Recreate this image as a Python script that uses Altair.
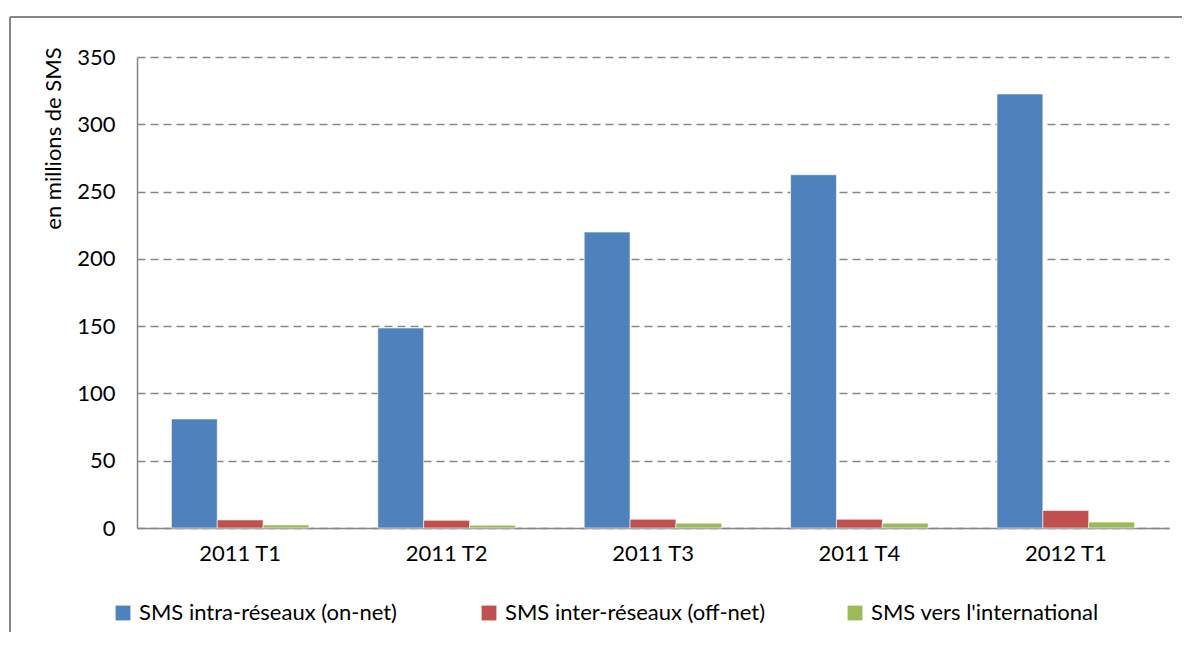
import altair as alt
import pandas as pd

categories = ["2011 T1", "2011 T2", "2011 T3", "2011 T4", "2012 T1"]
series_names = ["SMS intra-réseaux (on-net)", "SMS inter-réseaux (off-net)", "SMS vers l'international"]
on_net = [81.0, 148.6, 219.9, 262.5, 322.5]
off_net = [6.0, 5.7, 6.5, 6.5, 13.0]
international = [2.3, 2.1, 3.6, 3.6, 4.4]
colors = ["#4F81BD", "#C0504D", "#9BBB59"]
y_ticks = [0, 50, 100, 150, 200, 250, 300, 350]

rows = []
for values, name in zip([on_net, off_net, international], series_names):
    for cat, v in zip(categories, values):
        rows.append({"Trimestre": cat, "Série": name, "Valeur": v})
df = pd.DataFrame(rows)

FONT = "Lato"
W, H = 1032, 471

bars = alt.Chart(df).mark_bar(stroke="white", strokeWidth=0.6).encode(
    x=alt.X("Trimestre:N", sort=categories,
            scale=alt.Scale(paddingInner=1/3, paddingOuter=1/6),
            axis=alt.Axis(title=None, labelAngle=0, ticks=False, grid=False,
                          domainColor="#868686", domainWidth=1.5,
                          labelFont=FONT, labelFontSize=22, labelColor="#000000",
                          labelPadding=15)),
    xOffset=alt.XOffset("Série:N", sort=series_names, scale=alt.Scale(paddingInner=0, paddingOuter=0)),
    y=alt.Y("Valeur:Q", scale=alt.Scale(domain=[0, 350], nice=False),
            axis=alt.Axis(title="en millions de SMS", values=y_ticks, ticks=False,
                          grid=True, gridColor="#868686", gridDash=[8, 5], gridWidth=1.3,
                          domainColor="#868686", domainWidth=1.5,
                          labelFont=FONT, labelFontSize=22, labelColor="#000000",
                          labelPadding=22,
                          titleFont=FONT, titleFontSize=22, titleFontWeight="normal",
                          titleColor="#000000", titleAngle=-90,
                          titleX=-84, titleY=81, titleAlign="center",
                          titleBaseline="middle")),
    color=alt.Color("Série:N", sort=series_names,
                    scale=alt.Scale(domain=series_names, range=colors),
                    legend=alt.Legend(title=None, orient="none", legendX=-25, legendY=545,
                                      direction="horizontal", columns=3, gridAlign="all",
                                      columnPadding=78, symbolType="square", symbolSize=220,
                                      symbolStrokeWidth=0, labelFont=FONT, labelFontSize=22,
                                      labelColor="#000000", labelLimit=400, labelOffset=5)),
)

frame_top = alt.Chart(df).mark_rule(color="#868686", strokeWidth=1.5).encode(
    x=alt.value(-127), x2=alt.value(1060), y=alt.value(-40))
frame_left = alt.Chart(df).mark_rule(color="#868686", strokeWidth=1.5).encode(
    x=alt.value(-127), y=alt.value(-40), y2=alt.value(600))

chart = alt.layer(frame_top, frame_left, bars).properties(
    width=W, height=H,
    autosize=alt.AutoSizeParams(type="none"),
    padding={"left": 129, "top": 49, "right": 13, "bottom": 104},
).configure(background="white").configure_view(stroke=None, strokeWidth=0)

chart.save("out.html", embed_options={"renderer": "svg", "actions": False})
